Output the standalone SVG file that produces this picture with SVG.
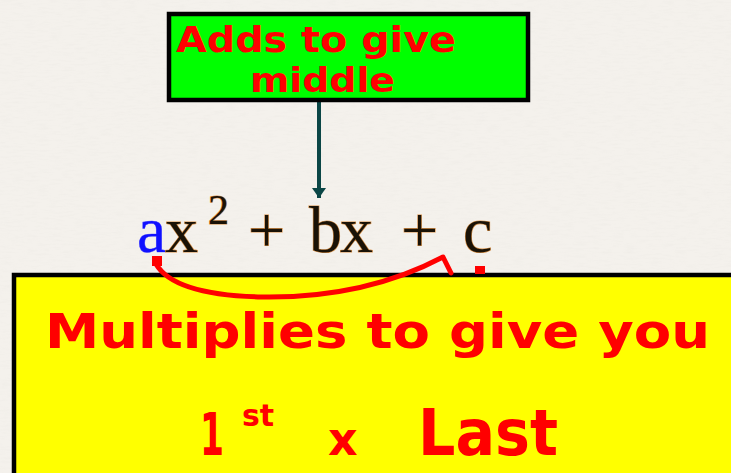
<svg xmlns="http://www.w3.org/2000/svg" width="731" height="473" viewBox="0 0 731 473">
  <defs>
    <filter id="paper" x="0" y="0" width="100%" height="100%">
      <feTurbulence type="fractalNoise" baseFrequency="0.08 0.5" numOctaves="3" seed="4" result="n"/>
      <feColorMatrix type="matrix" values="0 0 0 0 0.8  0 0 0 0 0.78  0 0 0 0 0.74  0 0 0 -1.6 0.9" />
    </filter>
    <marker id="arrowhead" viewBox="0 0 10 14" refX="10" refY="7" markerWidth="10" markerHeight="14" markerUnits="userSpaceOnUse" orient="auto">
      <path d="M0,0 L10,7 L0,14 Z" fill="#0b4646"/>
    </marker>
    <style>
      .box { stroke: #000; stroke-width: 4.5; }
      .ink { fill: #ff0000; font-family: "DejaVu Sans", "Noto Sans", sans-serif; font-weight: bold; }
      .eq { font-family: "Liberation Serif", "Times New Roman", serif; font-size: 66px; fill: #1a1206; stroke: #d9924a; stroke-width: 1.2; paint-order: stroke; }
      .pen { fill: none; stroke: #ff0000; stroke-width: 5; stroke-linecap: round; stroke-linejoin: round; }
    </style>
  </defs>

  <rect width="731" height="473" fill="#f4f1ec"/>
  <rect width="731" height="473" filter="url(#paper)" opacity="0.35"/>

  <g id="connectors">
    <line x1="319" y1="102" x2="319" y2="198" stroke="#0b4646" stroke-width="4" marker-end="url(#arrowhead)"/>
  </g>

  <g id="middle-box">
    <rect class="box" x="169" y="14" width="359" height="86" fill="#00ff00"/>
    <text class="ink" font-size="36" x="176" y="52" textLength="280" lengthAdjust="spacingAndGlyphs">Adds to give</text>
    <text class="ink" font-size="34" x="250" y="92" textLength="145" lengthAdjust="spacingAndGlyphs">middle</text>
  </g>

  <g id="equation">
    <text class="eq" y="252"><tspan x="137" fill="#1010ff" stroke="#6a6aff" stroke-width="0.6">a</tspan><tspan x="165">x</tspan><tspan x="208" y="224" font-size="42">2</tspan><tspan x="248" y="252">+</tspan><tspan x="309">b</tspan><tspan x="340">x</tspan><tspan x="401">+</tspan><tspan x="463">c</tspan></text>
  </g>

  <g id="product-box">
    <rect class="box" x="14" y="275" width="730" height="210" fill="#ffff00"/>
    <text class="ink" font-size="48" x="45" y="348" textLength="665" lengthAdjust="spacingAndGlyphs">Multiplies to give you</text>
    <text class="ink" y="455"><tspan x="200" font-size="58" textLength="24" lengthAdjust="spacingAndGlyphs">1</tspan><tspan x="242" y="426" font-size="30">st</tspan><tspan x="328" y="455" font-size="46">x</tspan><tspan x="418" font-size="64" textLength="140" lengthAdjust="spacingAndGlyphs">Last</tspan></text>
  </g>

  <g id="annotation-arc">
    <rect x="152" y="256" width="10" height="10" fill="#ff0000"/>
    <rect x="475" y="266" width="10" height="8" fill="#ff0000"/>
    <path class="pen" d="M156,264 C170,288 215,296 262,297 C330,298 390,285 443,257 L451,273"/>
  </g>
</svg>
